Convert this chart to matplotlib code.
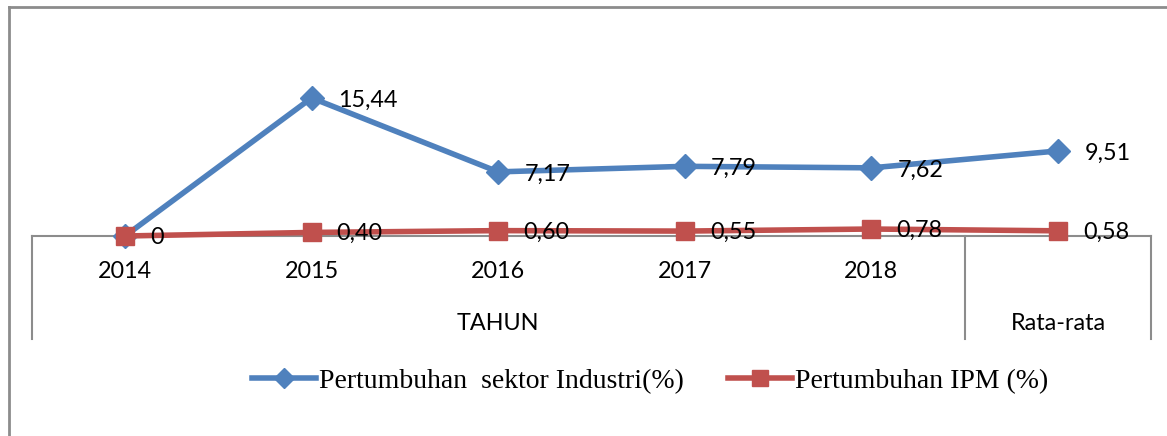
import matplotlib
matplotlib.use("Agg")
import matplotlib.pyplot as plt
from matplotlib.lines import Line2D
import matplotlib.transforms as mtransforms

categories = ["2014", "2015", "2016", "2017", "2018", "Rata-rata"]
group_labels = ["TAHUN", "Rata-rata"]
industri = [0, 15.44, 7.17, 7.79, 7.62, 9.51]
ipm = [0, 0.40, 0.60, 0.55, 0.78, 0.58]
industri_labels = ["", "15,44", "7,17", "7,79", "7,62", "9,51"]
ipm_labels = ["0", "0,40", "0,60", "0,55", "0,78", "0,58"]
series_names = ["Pertumbuhan  sektor Industri(%)", "Pertumbuhan IPM (%)"]

W, H = 1167, 436
fig = plt.figure(figsize=(W / 100, H / 100), dpi=100)
fig.patch.set_facecolor("white")

ax_left, ax_right = 31.7, 1151.3
ax_zero_y, ax_top_y = 236, 75
ax = fig.add_axes([ax_left / W, (H - ax_zero_y) / H, (ax_right - ax_left) / W, (ax_zero_y - ax_top_y) / H])
ax.set_xlim(-0.5, len(categories) - 0.5)
ax.set_ylim(0, 18)
for s in ["top", "right", "left"]:
    ax.spines[s].set_visible(False)
ax.spines["bottom"].set_color("#8c8c8c")
ax.spines["bottom"].set_linewidth(1.5)
ax.set_yticks([])
ax.set_xticks([])
ax.patch.set_alpha(0)

blue = "#4F81BD"
red = "#C0504D"
x = list(range(len(categories)))
ax.plot(x, industri, color=blue, lw=4, marker="D", ms=12, clip_on=False, zorder=3,
        label=series_names[0])
ax.plot(x, ipm, color=red, lw=4, marker="s", ms=13, clip_on=False, zorder=4,
        label=series_names[1])

lab_font = dict(family=["Lato", "DejaVu Sans"], size=16.8, color="black")
for xi, v, t in zip(x, industri, industri_labels):
    if t:
        ax.annotate(t, (xi, v), xytext=(19, -1.5), textcoords="offset points",
                    ha="left", va="center", zorder=6, **lab_font)
for xi, v, t in zip(x, ipm, ipm_labels):
    ax.annotate(t, (xi, v), xytext=(18, -1), textcoords="offset points",
                ha="left", va="center", zorder=6, **lab_font)

# multi-level category axis
trans = mtransforms.blended_transform_factory(ax.transData, ax.transAxes)
axh = ax_zero_y - ax_top_y
for xb in [-0.5, 4.5, 5.5]:
    ax.add_artist(Line2D([xb, xb], [0, -103 / axh], transform=trans, color="#8c8c8c",
                         lw=1.5, clip_on=False))
for xi, c in zip(x, categories):
    if c != "Rata-rata":
        ax.text(xi, -35 / axh, c, transform=trans, ha="center", va="center", **lab_font)
ax.text(2, -87 / axh, group_labels[0], transform=trans, ha="center", va="center", **lab_font)
ax.text(5, -87 / axh, group_labels[1], transform=trans, ha="center", va="center", **lab_font)

# outer border
bx, by = 8.5 / W, 1 - 7.5 / H
fig.add_artist(Line2D([bx, bx], [0, by], transform=fig.transFigure, color="#8c8c8c", lw=2))
fig.add_artist(Line2D([bx, 1], [by, by], transform=fig.transFigure, color="#8c8c8c", lw=2))

leg = fig.legend(loc="center", bbox_to_anchor=(650 / W, 1 - 381 / H), ncol=2, frameon=False,
                 prop=dict(family="Liberation Serif", size=20), handlelength=2.3,
                 handletextpad=0.1, columnspacing=1.6, markerscale=0.85)
plt.savefig("out.png", dpi=100)
